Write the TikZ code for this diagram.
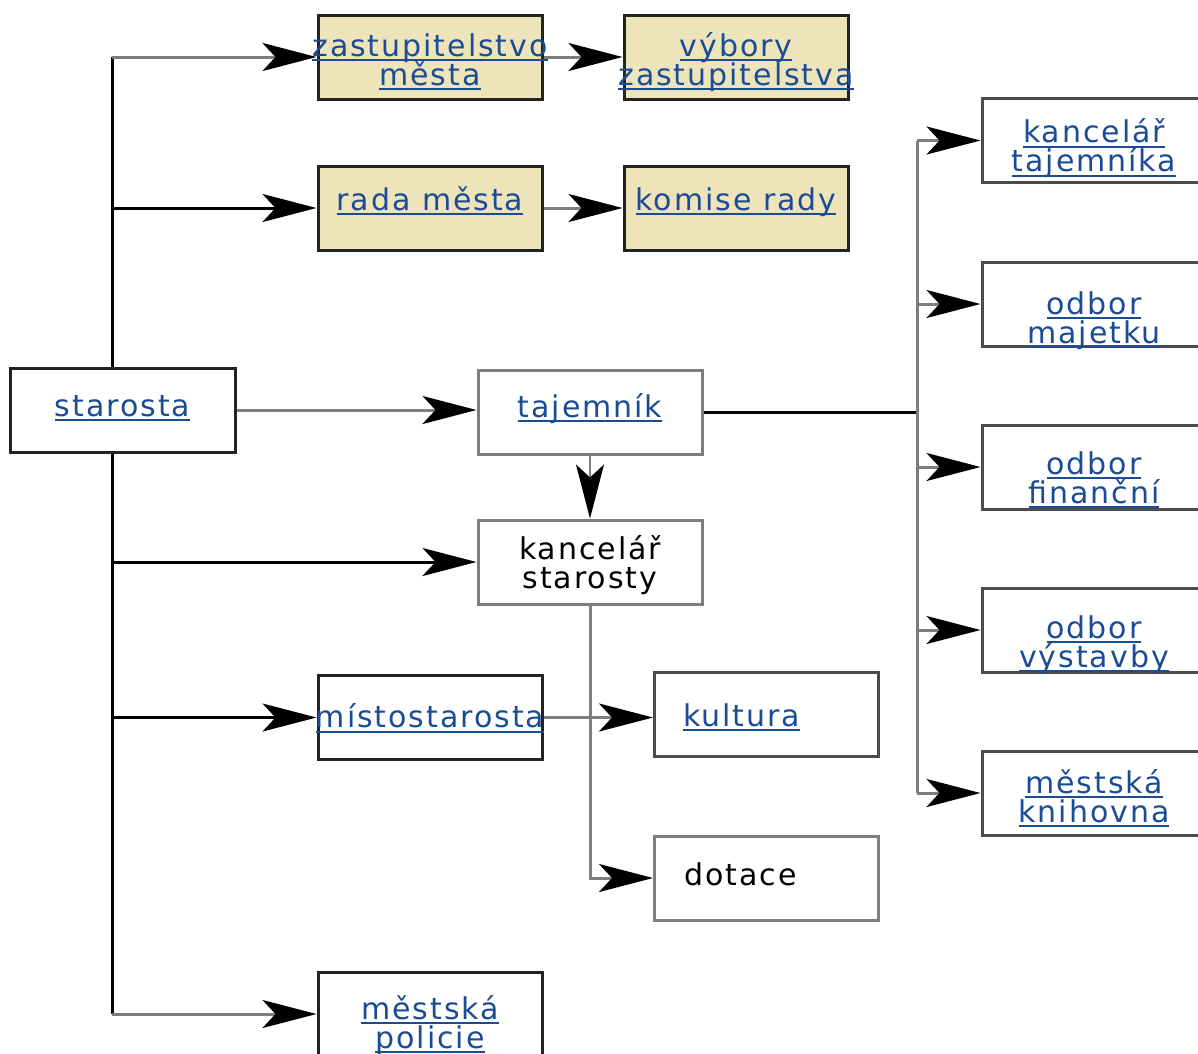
\documentclass[tikz,border=0pt]{standalone}
\usepackage{fontspec}
\setmainfont{DejaVu Sans}[LetterSpace=6.5]
\usetikzlibrary{arrows.meta}
\definecolor{lnk}{RGB}{26,76,150}
\definecolor{beige}{RGB}{237,228,185}
\definecolor{lg}{RGB}{125,125,125}
\definecolor{dk}{RGB}{35,35,35}
\newcommand\lk[1]{{\color{lnk}\setbox0\hbox{#1}\rlap{\rule[-5pt]{\wd0}{2pt}}\box0}}
\newcommand\bt[3][0pt]{\raisebox{-#2}[0pt][0pt]{\makebox[0pt]{\hspace*{#1}\vbox{\baselineskip=29pt\lineskiplimit=-100pt\halign{\hfil##\hfil\cr#3\crcr}}}}}
\tikzset{
  box/.style={draw=dk, line width=3pt, fill=white, minimum width=224pt, minimum height=84pt, inner sep=0pt, font=\fontsize{30}{29}\selectfont},
  gbox/.style={box, draw=lg},
  bbox/.style={box, fill=beige},
  blk/.style={line width=3pt, draw=black},
  gl/.style={line width=3pt, draw=lg},
  arr/.style={-{Stealth[length=54pt,width=28pt,inset=13pt,color=black]}}
}
\begin{document}
\begin{tikzpicture}[x=1pt,y=-1pt]
\useasboundingbox (0,0) rectangle (1198,1053);
\clip (0,0) rectangle (1198,1053);
\fill[white] (0,0) rectangle (1198,1053);
\coordinate (tx) at (112,0);
\coordinate (rx) at (917,0);
% nodes
\node[bbox] (zast) at (430,57) {\bt{28pt}{\lk{zastupitelstvo}\cr\lk{města}}};
\node[bbox] (vyb) at (736,57) {\bt{28pt}{\lk{výbory}\cr\lk{zastupitelstva}}};
\node[bbox] (rada) at (430,208) {\bt{2pt}{\lk{rada města}}};
\node[bbox] (kom) at (736,208) {\bt{2pt}{\lk{komise rady}}};
\node[box, minimum width=225pt] (star) at (122.5,410) {\bt{6pt}{\lk{starosta}}};
\node[gbox] (taj) at (590,412) {\bt{5pt}{\lk{tajemník}}};
\node[gbox] (ks) at (590,562) {\bt{26pt}{kancelář\cr starosty}};
\node[box] (mist) at (430,717.5) {\bt{10pt}{\lk{místostarosta}}};
\node[box, draw=black!70] (kult) at (766.5,714) {\bt[-50pt]{12pt}{\lk{kultura}}};
\node[gbox] (dot) at (766.5,878) {\bt[-52pt]{7pt}{dotace}};
\node[box] (pol) at (430,1014) {\bt{34pt}{\lk{městská}\cr\lk{policie}}};
\node[box, draw=black!70] (kt) at (1094,140.5) {\bt{31pt}{\lk{kancelář}\cr\lk{tajemníka}}};
\node[box, draw=black!70] (om) at (1094,304) {\bt{39pt}{\lk{odbor}\cr\lk{majetku}}};
\node[box, draw=black!70] (of) at (1094,467) {\bt{36pt}{\lk{odbor}\cr\lk{finanční}}};
\node[box, draw=black!70] (ov) at (1094,630) {\bt{37pt}{\lk{odbor}\cr\lk{výstavby}}};
\node[box, draw=black!70] (mk) at (1094,793) {\bt{29pt}{\lk{městská}\cr\lk{knihovna}}};
% trunk
\draw[blk] (star.north -| tx) -- (tx |- zast.west);
\draw[blk] (star.south -| tx) -- (tx |- pol.west);
\draw[gl, arr] (tx |- zast.west) -- (zast.west);
\draw[blk, arr] (tx |- rada.west) -- (rada.west);
\draw[blk, arr] (tx |- ks.west) -- (ks.west);
\draw[blk, arr] (tx |- mist.west) -- (mist.west);
\draw[gl, arr] (tx |- pol.west) -- (pol.west);
% council
\draw[gl, arr] (zast) -- (vyb);
\draw[gl, arr] (rada) -- (kom);
% secretary
\draw[gl, arr] (star.east) -- (star.east -| taj.west);
\draw[gl, line width=2pt, arr] (taj) -- (ks);
\draw[blk] (taj.east) -- (taj.east -| rx);
\draw[gl] (rx |- kt.west) -- (rx |- mk.west);
\draw[gl, arr] (rx |- kt.west) -- (kt.west);
\draw[gl, arr] (rx |- om.west) -- (om.west);
\draw[gl, arr] (rx |- of.west) -- (of.west);
\draw[gl, arr] (rx |- ov.west) -- (ov.west);
\draw[gl, arr] (rx |- mk.west) -- (mk.west);
% lower
\draw[gl, arr] (ks.south) |- (dot.west);
\draw[gl, arr] (mist.east) -- (mist.east -| kult.west);
\end{tikzpicture}
\end{document}
